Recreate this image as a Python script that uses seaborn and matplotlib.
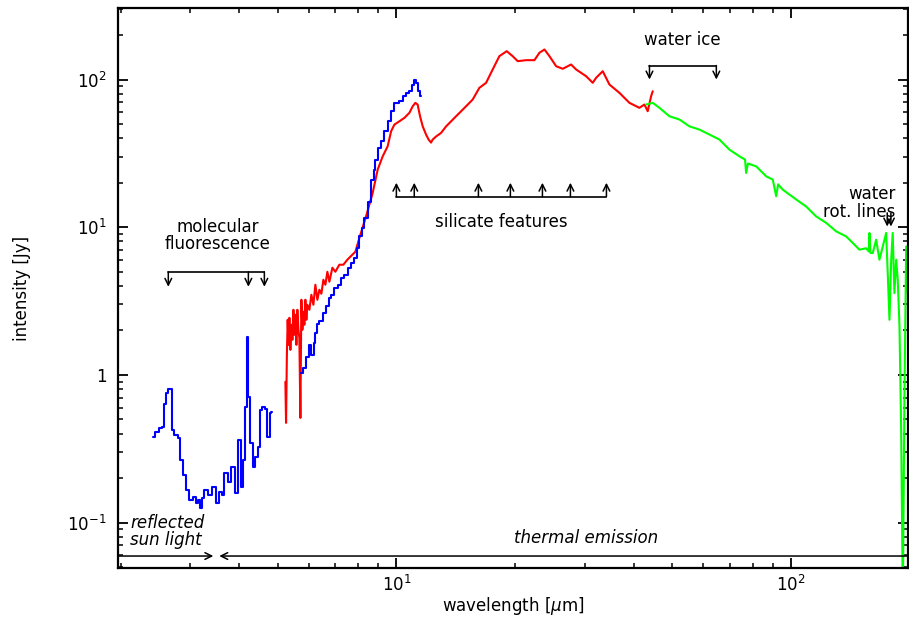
import numpy as np
import pandas as pd
import matplotlib
matplotlib.use("Agg")
import matplotlib.pyplot as plt
import seaborn as sns
from matplotlib.ticker import FixedLocator, FixedFormatter, LogLocator, NullFormatter

# ---------------- data ----------------
blue1_wl = [2.412, 2.483, 2.532, 2.570, 2.595, 2.630, 2.659, 2.694, 2.705, 2.764,
            2.818, 2.846, 2.901, 2.958, 3.017, 3.076, 3.135, 3.167, 3.198, 3.228,
            3.293, 3.357, 3.456, 3.511, 3.580, 3.628, 3.700, 3.773, 3.862, 3.924,
            3.999, 4.063, 4.118, 4.159, 4.183, 4.222, 4.282, 4.365, 4.424, 4.494,
            4.539, 4.601, 4.690, 4.718, 4.765, 4.792, 4.841]
blue1_flux = [0.382, 0.413, 0.439, 0.446, 0.636, 0.751, 0.804, 0.800, 0.424, 0.392,
              0.372, 0.265, 0.210, 0.166, 0.142, 0.150, 0.136, 0.142, 0.125, 0.147,
              0.166, 0.154, 0.175, 0.136, 0.162, 0.154, 0.217, 0.189, 0.239, 0.158,
              0.362, 0.175, 0.265, 0.610, 1.81, 0.713, 0.344, 0.239, 0.279, 0.327,
              0.579, 0.610, 0.585, 0.382, 0.382, 0.550, 0.557]

blue2_wl = [5.733, 5.845, 5.960, 6.019, 6.135, 6.196, 6.258, 6.317, 6.443, 6.569,
            6.697, 6.764, 6.894, 7.032, 7.169, 7.309, 7.456, 7.601, 7.748, 7.904,
            7.978, 8.138, 8.215, 8.379, 8.543, 8.708, 8.795, 8.882, 9.055, 9.233,
            9.417, 9.600, 9.786, 9.98, 10.28, 10.48, 10.68, 10.90, 11.00, 11.17,
            11.32, 11.39, 11.55]
blue2_flux = [1.027, 1.110, 1.331, 1.597, 1.367, 1.640, 1.918, 2.217, 2.298, 2.620,
              2.905, 3.311, 3.486, 3.870, 4.076, 4.524, 4.764, 5.289, 5.718, 6.182,
              7.228, 8.663, 9.92, 11.60, 14.89, 20.99, 24.54, 28.68, 34.43, 38.16,
              44.62, 52.15, 60.97, 69.5, 71.3, 77.1, 81.2, 83.3, 92.5, 98.9,
              95.0, 83.3, 77.9]

red_wl = [5.232, 5.253, 5.278, 5.303, 5.330, 5.356, 5.387, 5.418, 5.451, 5.483,
          5.514, 5.546, 5.579, 5.611, 5.645, 5.677, 5.711, 5.744, 5.777, 5.812,
          5.845, 5.879, 5.914, 5.948, 6.019, 6.089, 6.161, 6.233, 6.306, 6.380,
          6.455, 6.531, 6.607, 6.685, 6.764, 6.883, 7.004, 7.169, 7.339, 7.512,
          7.689, 7.873,
          8.058, 8.379, 8.708, 8.966, 9.233, 9.504, 9.696, 9.884, 10.18, 10.48,
          10.79, 11.00, 11.17, 11.32, 11.48, 11.66, 11.89, 12.07, 12.24, 12.36,
          12.60, 12.98, 13.37, 14.17, 15.02, 15.61, 16.23, 16.88, 17.54, 18.24,
          19.04, 19.71, 20.30, 21.32, 22.38, 23.04, 23.73, 24.43, 25.40, 26.40,
          27.72, 28.55, 30.26, 31.45, 32.08, 33.34, 34.67, 36.76, 38.96, 41.30,
          42.52, 43.35, 44.22, 44.64]
red_flux = [0.897, 0.473, 1.367, 2.360, 1.597, 2.434, 1.477, 2.183, 1.727, 2.759,
            1.867, 2.552, 1.597, 2.759, 2.019, 1.781, 0.511, 3.225, 2.019, 2.674,
            2.183, 3.225, 2.360, 2.983, 2.759, 3.486, 2.983, 4.076, 3.225, 3.770,
            3.542, 4.407, 4.076, 4.992, 4.271, 5.314, 4.992, 5.569, 5.569, 6.022,
            6.410, 6.822,
            8.45, 11.84, 17.06, 24.54, 30.2, 35.3, 44.6, 49.5, 52.15, 55.0,
            59.5, 65.9, 69.5, 67.7, 56.4, 48.2, 42.4, 39.2, 37.4, 39.2,
            41.1, 43.5, 48.2, 56.4, 65.9, 73.2, 87.8, 95.0, 116.9, 143.9,
            155.6, 143.9, 133.1, 135.2, 135.2, 151.7, 159.7, 143.9, 123.1, 118.2,
            126.4, 116.9, 105.3, 95.0, 102.7, 113.8, 92.5, 81.2, 69.5, 64.3,
            67.7, 61.0, 77.1, 83.3]

green_wl = [42.95, 44.64, 46.42, 49.20, 52.17, 55.29, 58.62, 62.14, 65.89, 69.84,
            74.05, 76.50, 76.99, 77.80, 81.66, 86.55, 89.94, 91.74, 92.80, 95.33,
            103.1, 109.3, 115.8, 122.8, 130.2, 138.0, 143.5, 149.1, 155.0, 157.5,
            158.1, 159.0, 161.2, 164.4, 167.6, 170.9, 174.3, 175.9, 177.7, 179.5,
            181.1, 182.9, 184.8, 186.5, 188.4, 190.3, 192.1, 194.0, 195.9, 197.8]
green_flux = [67.7, 69.5, 64.3, 56.4, 53.6, 48.2, 45.8, 42.4, 39.2, 33.5,
              30.2, 28.7, 23.3, 27.0, 25.8, 22.1, 21.0, 16.2, 19.5, 17.96,
              15.4, 13.8, 11.84, 10.7, 9.37, 8.66, 7.81, 7.04, 7.2, 6.85,
              9.14, 6.7, 6.68, 8.23, 6.02, 7.41, 9.14, 4.89, 2.36, 6.02,
              9.14, 3.58, 6.02, 4.41, 2.13, 0.402, 0.03, 0.751, 7.41, 3.58]

# feature markers (wavelengths in micron)
fluor_lines = [2.642, 4.216, 4.628]
silicate_lines = [10.0, 11.1, 16.14, 19.45, 23.45, 27.61, 34.07]
ice_lines = [43.8, 64.7]
rot_lines = [175.4, 179.2]

x_ticks = [10, 100]
x_ticklabels = ['10$^1$', '10$^2$']
y_ticks = [0.1, 1, 10, 100]
y_ticklabels = ['10$^{-1}$', '1', '10$^1$', '10$^2$']

XLIM = (1.97, 198)
YLIM = (0.0492, 305)

# ---------------- style ----------------
sns.set_style("ticks")
plt.rcParams['font.family'] = ['DejaVu Sans']
plt.rcParams['mathtext.fontset'] = 'dejavusans'
plt.rcParams['text.color'] = 'black'
plt.rcParams['axes.labelcolor'] = 'black'
plt.rcParams['xtick.color'] = 'black'
plt.rcParams['ytick.color'] = 'black'
FS = 12

fig = plt.figure(figsize=(9.09, 6.21), dpi=100)
ax = fig.add_axes([118 / 909, 53 / 621, 790 / 909, 560 / 621])
ax.set_xscale('log')
ax.set_yscale('log')

def draw(wl, fl, color, steps=False):
    df = pd.DataFrame({'wavelength': wl, 'intensity': fl})
    sns.lineplot(data=df, x='wavelength', y='intensity', ax=ax, color=color,
                 lw=1.5, sort=False, estimator=None,
                 drawstyle='steps-mid' if steps else 'default')

draw(red_wl, red_flux, (1, 0, 0))
draw(blue1_wl, blue1_flux, (0, 0, 1), steps=True)
draw(blue2_wl, blue2_flux, (0, 0, 1), steps=True)
draw(green_wl, green_flux, (0, 1, 0))

ax.set_xlim(*XLIM)
ax.set_ylim(*YLIM)

ax.xaxis.set_major_locator(FixedLocator(x_ticks))
ax.xaxis.set_major_formatter(FixedFormatter(x_ticklabels))
ax.yaxis.set_major_locator(FixedLocator(y_ticks))
ax.yaxis.set_major_formatter(FixedFormatter(y_ticklabels))
for axis in (ax.xaxis, ax.yaxis):
    axis.set_minor_locator(LogLocator(base=10, subs=np.arange(2, 10), numticks=20))
    axis.set_minor_formatter(NullFormatter())

ax.tick_params(which='both', direction='in', top=True, right=True, colors='k',
               labelsize=FS)
ax.tick_params(which='major', length=7, width=1.3)
ax.tick_params(which='minor', length=3.5, width=1.1)
ax.tick_params(axis='x', pad=5)
ax.tick_params(axis='y', pad=8)
for s in ax.spines.values():
    s.set_linewidth(1.6)
    s.set_color('k')

ax.set_xlabel('wavelength [$\\mu$m]', fontsize=FS, labelpad=0)
ax.set_ylabel('intensity [Jy]', fontsize=FS, labelpad=26)

arrow_kw = dict(arrowstyle='->', lw=1.1, color='k', shrinkA=0, shrinkB=0,
                mutation_scale=12)

def arrow(x0, y0, x1, y1):
    ax.annotate('', xy=(x1, y1), xytext=(x0, y0), xycoords='data',
                textcoords='data', arrowprops=arrow_kw)

# molecular fluorescence
ax.plot([fluor_lines[0], fluor_lines[-1]], [4.99, 4.99], color='k', lw=1.2)
for w in fluor_lines:
    arrow(w, 4.99, w, 3.95)
ax.text(3.518, 8.76, 'molecular\nfluorescence', ha='center', va='center',
        multialignment='center', linespacing=0.95, fontsize=FS)

# silicate features
ax.plot([silicate_lines[0], silicate_lines[-1]], [16.1, 16.1], color='k', lw=1.2)
for w in silicate_lines:
    arrow(w, 16.1, w, 20.0)
ax.text(18.45, 10.9, 'silicate features', ha='center', va='center', fontsize=FS)

# water ice
ax.plot([ice_lines[0], ice_lines[-1]], [124.4, 124.4], color='k', lw=1.2)
for w in ice_lines:
    arrow(w, 124.4, w, 100)
ax.text(53.1, 183.8, 'water ice', ha='center', va='center', fontsize=FS)

# water rotational lines
for w in rot_lines:
    arrow(w, 12.5, w, 10.1)
ax.text(184.1, 14.6, 'water\nrot. lines', ha='right', va='center',
        multialignment='right', linespacing=0.95, fontsize=FS)

# reflected / thermal
y_bar = 0.0593
arrow(XLIM[0], y_bar, 3.436, y_bar)
arrow(XLIM[1], y_bar, 3.558, y_bar)
ax.text(2.117, 0.0869, 'reflected\nsun light', ha='left', va='center',
        multialignment='left', linespacing=0.95, fontsize=FS, style='italic')
ax.text(30.3, 0.0785, 'thermal emission', ha='center', va='center', fontsize=FS,
        style='italic')

fig.savefig('out.png', dpi=100)
